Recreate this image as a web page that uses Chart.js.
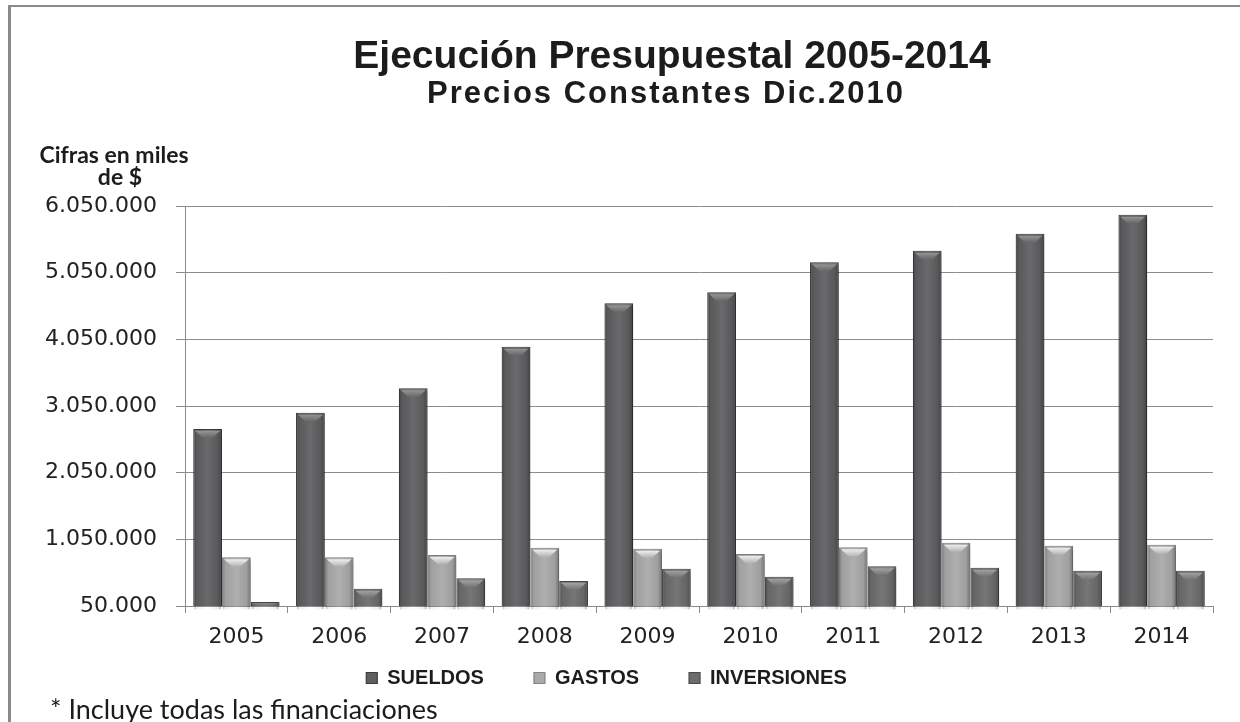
<!DOCTYPE html>
<html><head><meta charset="utf-8">
<script src="https://cdn.jsdelivr.net/npm/chart.js@4.4.1/dist/chart.umd.min.js"></script>
<style>
html,body{margin:0;padding:0;background:#fff;}
#wrap{position:relative;width:1240px;height:722px;overflow:hidden;background:#fff;}
#frame{position:absolute;left:8px;top:5px;width:1270px;height:760px;border-left:3px solid #8a8a8a;border-top:2px solid #8a8a8a;box-sizing:border-box;}
canvas{position:absolute;left:0;top:0;}
</style></head><body>
<div id="wrap"><div id="frame"></div><canvas id="c" width="1240" height="722"></canvas></div>
<script>
// ---- data ----
const categories = ['2005','2006','2007','2008','2009','2010','2011','2012','2013','2014'];
const seriesNames = ['SUELDOS','GASTOS','INVERSIONES'];
const sueldos     = [2705000, 2950000, 3315000, 3940000, 4590000, 4755000, 5205000, 5380000, 5635000, 5920000];
const gastos      = [ 780000,  780000,  815000,  925000,  910000,  830000,  930000, 1000000,  955000,  970000];
const inversiones = [ 110000,  310000,  465000,  425000,  610000,  490000,  645000,  625000,  580000,  580000];
const yTickValues = [50000, 1050000, 2050000, 3050000, 4050000, 5050000, 6050000];
const titleText = 'Ejecución Presupuestal 2005-2014';
const subtitleText = 'Precios Constantes Dic.2010';
const axisTitleLines = ['Cifras en miles', 'de $'];
const footnoteText = '* Incluye todas las financiaciones';

const fmt = v => String(v).replace(/\B(?=(\d{3})+(?!\d))/g, '.');

const fills   = ['#5f5f61', '#a9a9a9', '#6c6c6c'];
const borders = ['#3c3c3c', '#858585', '#4a4a4a'];
const bevels  = [['#a2a2a2', '#656567'], ['#ffffff', '#b4b4b4'], ['#b0b0b0', '#727272']];

const bevelPlugin = {
  id: 'bevel',
  beforeDatasetsDraw(chart) {
    const c = chart.ctx; c.save();
    c.shadowColor = 'rgba(0,0,0,0.25)'; c.shadowBlur = 5; c.shadowOffsetX = 3; c.shadowOffsetY = 1;
  },
  afterDatasetsDraw(chart) {
    const ctx = chart.ctx; ctx.restore(); ctx.save();
    chart.data.datasets.forEach((ds, i) => {
      const meta = chart.getDatasetMeta(i);
      meta.data.forEach(bar => {
        const {x, y, base, width} = bar.getProps(['x', 'y', 'base', 'width'], true);
        const l = x - width / 2, r = x + width / 2, h = base - y;
        if (h < 2) return;
        const g = ctx.createLinearGradient(l, 0, r, 0);
        g.addColorStop(0, 'rgba(0,0,0,0.30)');
        g.addColorStop(0.12, 'rgba(0,0,0,0.05)');
        g.addColorStop(0.5, 'rgba(255,255,255,0.07)');
        g.addColorStop(0.85, 'rgba(0,0,0,0.06)');
        g.addColorStop(1, 'rgba(0,0,0,0.32)');
        ctx.fillStyle = g;
        ctx.fillRect(l + 1, y + 1, width - 2, h - 1);
        const d = Math.min(9, h * 0.45);
        if (d > 2) {
          const tg = ctx.createLinearGradient(0, y, 0, y + d);
          tg.addColorStop(0, bevels[i][0]); tg.addColorStop(1, bevels[i][1]);
          ctx.fillStyle = tg;
          ctx.beginPath();
          ctx.moveTo(l + 2, y + 2); ctx.lineTo(r - 2, y + 2);
          ctx.lineTo(x + width * 0.16, y + d); ctx.lineTo(x - width * 0.16, y + d);
          ctx.closePath(); ctx.fill();
        }
      });
    });
    ctx.restore();
  }
};

// place the legend row at the reference height (legend item row centre ~ y 678)
const legendPlace = {
  id: 'legendPlace',
  afterLayout(chart) {
    const lg = chart.legend; if (!lg) return;
    const pad = lg.options.labels.padding, fs = lg.options.labels.font.size;
    lg.top = 678 - pad - fs / 2;
    lg.bottom = 700;
    lg.height = lg.bottom - lg.top;
  }
};

const textPlugin = {
  id: 'texts',
  afterDraw(chart) {
    const ctx = chart.ctx; ctx.save();
    ctx.fillStyle = '#1c1c1c'; ctx.textAlign = 'center'; ctx.textBaseline = 'alphabetic';
    ctx.font = 'bold 39px "Liberation Sans", Arial, sans-serif';
    ctx.fillText(titleText, 672, 68);
    ctx.font = 'bold 31px "Liberation Sans", Arial, sans-serif';
    try { ctx.letterSpacing = '2px'; } catch (e) {}
    ctx.fillText(subtitleText, 666, 103);
    try { ctx.letterSpacing = '0px'; } catch (e) {}
    ctx.font = 'bold 23px Lato, sans-serif';
    ctx.fillText(axisTitleLines[0], 114, 163);
    ctx.fillText(axisTitleLines[1], 120, 185);
    ctx.textAlign = 'left'; ctx.font = '27px Lato, sans-serif';
    ctx.fillText(footnoteText, 50, 719);
    ctx.restore();
  }
};

const mk = (label, data, i) => ({
  label, data,
  backgroundColor: fills[i], borderColor: borders[i], borderWidth: 1.2,
  categoryPercentage: 0.84, barPercentage: 1.0
});

new Chart(document.getElementById('c'), {
  type: 'bar',
  data: {
    labels: categories,
    datasets: [mk(seriesNames[0], sueldos, 0), mk(seriesNames[1], gastos, 1), mk(seriesNames[2], inversiones, 2)]
  },
  options: {
    responsive: false, animation: false, devicePixelRatio: 1,
    layout: { padding: { top: 206, right: 27, bottom: 30, left: 0 } },
    plugins: {
      title: { display: false }, tooltip: { enabled: false },
      legend: {
        display: true, position: 'bottom', maxHeight: 40,
        labels: { boxWidth: 11, boxHeight: 11, padding: 50, color: '#1c1c1c',
                  font: { family: '"Liberation Sans", Arial, sans-serif', size: 20, weight: 'bold' } }
      }
    },
    scales: {
      x: {
        grid: { display: true, drawOnChartArea: false, drawTicks: true, tickLength: 7, color: '#8a8a8a', offset: true },
        border: { display: true, color: '#8a8a8a', width: 1 },
        ticks: { color: '#222', padding: 11, font: { family: '"DejaVu Sans", Verdana, sans-serif', size: 22 }, maxRotation: 0 },
        afterFit(s) { s.height = 46; }
      },
      y: {
        min: 50000, max: 6050000,
        afterBuildTicks(s) { s.ticks = yTickValues.map(v => ({ value: v })); },
        grid: { color: '#8c8c8c', lineWidth: 1, tickLength: 9, drawTicks: true },
        border: { display: true, color: '#8a8a8a', width: 1 },
        ticks: { color: '#222', padding: 19, callback: v => fmt(v),
                 font: { family: '"DejaVu Sans", Verdana, sans-serif', size: 22 } },
        afterFit(s) { s.width = 185; }
      }
    }
  },
  plugins: [bevelPlugin, legendPlace, textPlugin]
});
</script>
</body></html>
